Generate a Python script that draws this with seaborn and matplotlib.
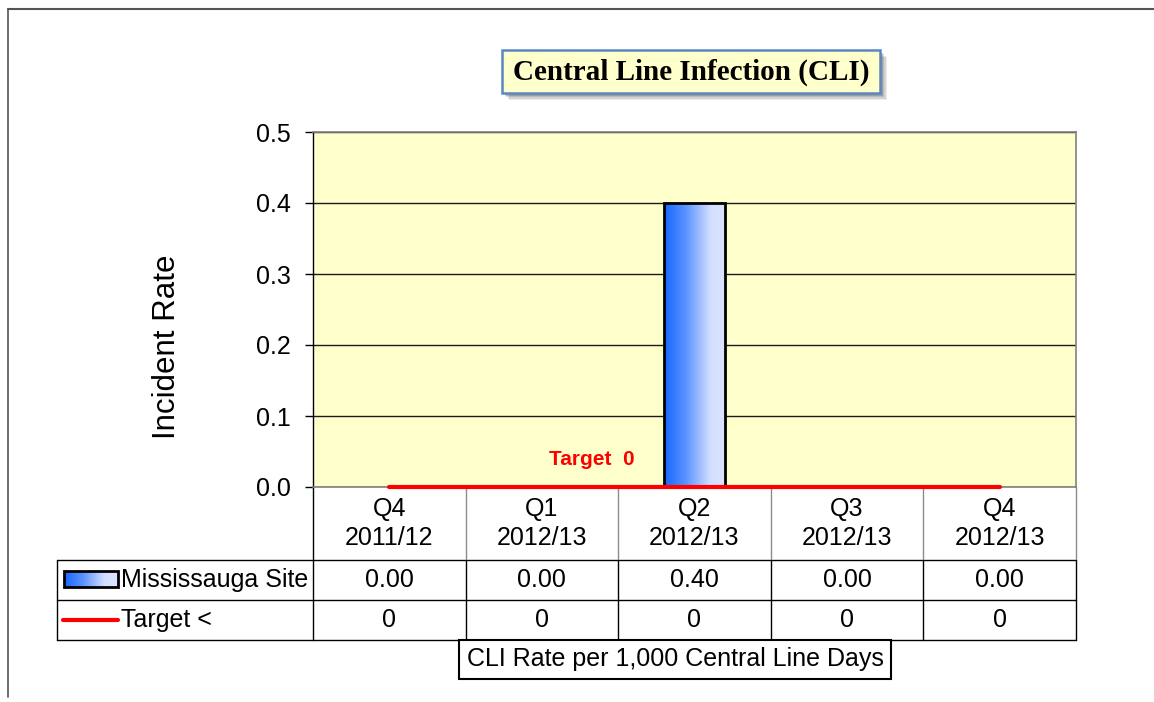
import numpy as np
import matplotlib
matplotlib.use("Agg")
import matplotlib.pyplot as plt
import matplotlib.transforms as mtransforms
from matplotlib.colors import LinearSegmentedColormap
from matplotlib.patches import Rectangle
import seaborn as sns

categories = ["Q4\n2011/12", "Q1\n2012/13", "Q2\n2012/13", "Q3\n2012/13", "Q4\n2012/13"]
site_rates = [0.00, 0.00, 0.40, 0.00, 0.00]
targets = [0, 0, 0, 0, 0]
yticks = [0.0, 0.1, 0.2, 0.3, 0.4, 0.5]
series_names = ["Mississauga Site", "Target <"]
title = "Central Line Infection (CLI)"
ylabel = "Incident Rate"
xlabel = "CLI Rate per 1,000 Central Line Days"
target_label = "Target  0"

W, H = 1154, 702
sns.set_theme(style="white")
plt.rcParams["font.family"] = ["Liberation Sans", "DejaVu Sans"]
plt.rcParams["text.color"] = "black"
plt.rcParams["axes.labelcolor"] = "black"
plt.rcParams["ytick.color"] = "black"
plt.rcParams["xtick.color"] = "black"

FS = 18

fig = plt.figure(figsize=(W / 100, H / 100), dpi=100)
fig.patch.set_facecolor("white")


def px(x0, y0, x1, y1):
    return [x0 / W, 1 - y1 / H, (x1 - x0) / W, (y1 - y0) / H]


# overlay in pixel coords for table, title, frame
ov = fig.add_axes([0, 0, 1, 1], zorder=0)
ov.axis("off")

ax = fig.add_axes(px(313, 132, 1076, 487), zorder=1)
ax.set_facecolor("#FFFFCC")

grad_cmap = LinearSegmentedColormap.from_list(
    "bar", [(0, "#1566FF"), (0.35, "#5A93FF"), (0.75, "#D3DEFF"), (1, "#DCE4FF")])
grad = np.linspace(0, 1, 256)[None, :]

sns.barplot(x=categories, y=site_rates, ax=ax, width=0.4, color="#3B7BFF",
            saturation=1, edgecolor="black", linewidth=2, zorder=3)
for bar in ax.patches:
    if bar.get_height() > 0:
        x, w, h = bar.get_x(), bar.get_width(), bar.get_height()
        im = ax.imshow(grad, cmap=grad_cmap, aspect="auto",
                       extent=[x, x + w, 0, h], zorder=3.5)
        im.set_clip_path(bar)
    else:
        bar.set_linewidth(0)
    bar.set_facecolor("none")
    bar.set_zorder(4)

sns.lineplot(x=categories, y=targets, ax=ax, color="red", linewidth=3,
             sort=False, zorder=5, clip_on=False)
ax.text(1.33, 0.025, target_label, color="red", fontsize=15, fontweight="bold",
        ha="center", va="bottom", zorder=6)

ax.set_xlim(-0.5, len(categories) - 0.5)
ax.set_ylim(0, 0.5)
ax.set_yticks(yticks)
ax.set_yticklabels([f"{t:.1f}" for t in yticks])
ax.grid(axis="y", color="#1a1a1a", linewidth=1)
ax.grid(axis="x", visible=False)
ax.set_axisbelow(True)
ax.set_xlabel("")
ax.set_ylabel("")
ax.tick_params(axis="x", bottom=False, labelbottom=False)
ax.tick_params(axis="y", left=True, length=6, width=1, color="black",
               labelsize=FS, labelcolor="black", pad=10)
for s in ["top", "right", "bottom"]:
    ax.spines[s].set_color("#808080")
    ax.spines[s].set_linewidth(1.2)
ax.spines["left"].set_color("black")
ax.spines["left"].set_linewidth(1)
if ax.get_legend():
    ax.get_legend().remove()

ov.set_xlim(0, W)
ov.set_ylim(H, 0)

# outer frame
ov.plot([8, 8], [9, 697], color="#555555", lw=1.2)
ov.plot([8, W], [9, 9], color="#555555", lw=1.5)

# y label
ov.text(167, 347, ylabel, rotation=90, ha="center", va="center", fontsize=22.5)

# title box with shadow
for i, a in enumerate([0.08, 0.1, 0.12, 0.15]):
    off = 7 - i * 1.5
    ov.add_patch(Rectangle((502 + off, 50 + off), 378, 43, facecolor="black",
                           edgecolor="none", alpha=a))
ov.add_patch(Rectangle((502, 50), 378, 43, facecolor="#FFFFCC",
                       edgecolor="#5B86C4", lw=1.8))
ov.text(691, 72, title, ha="center", va="center", fontsize=21,
        fontweight="bold", family=["Liberation Serif", "DejaVu Serif"])

# data table
tb = mtransforms.blended_transform_factory(ax.transData, ov.transData)
n = len(categories)
row_top, row1, row2, row_bot = 487, 560, 600, 640
for y in [row1, row2, row_bot]:
    ov.plot([57, 313], [y, y], color="black", lw=1)
    ov.plot([-0.5, n - 0.5], [y, y], color="black", lw=1, transform=tb)
ov.plot([57, 57], [row1, row_bot], color="black", lw=1)
ov.plot([-0.5, -0.5], [row_top, row_bot], color="black", lw=1, transform=tb)
for i in range(n):
    b = i + 0.5
    ov.plot([b, b], [row_top, row1], color="#8c8c8c", lw=1, transform=tb)
    ov.plot([b, b], [row1, row_bot], color="black", lw=1, transform=tb)

for i, (cat, v, t) in enumerate(zip(categories, site_rates, targets)):
    ov.text(i, (row_top + row1) / 2, cat, ha="center", va="center",
            fontsize=FS, linespacing=1.3, transform=tb)
    ov.text(i, (row1 + row2) / 2, f"{v:.2f}", ha="center", va="center",
            fontsize=FS, transform=tb)
    ov.text(i, (row2 + row_bot) / 2, f"{t:d}", ha="center", va="center",
            fontsize=FS, transform=tb)

# legend keys inside the table
ov.imshow(grad, cmap=grad_cmap, aspect="auto", extent=[64, 118, 587, 571], zorder=2)
ov.add_patch(Rectangle((64, 571), 54, 16, facecolor="none", edgecolor="black",
                       lw=2, zorder=3))
ov.plot([63, 118], [620, 620], color="red", lw=3)
ov.text(121, (row1 + row2) / 2, series_names[0], ha="left", va="center", fontsize=FS)
ov.text(121, (row2 + row_bot) / 2, series_names[1], ha="left", va="center", fontsize=FS)
ov.set_xlim(0, W)
ov.set_ylim(H, 0)

# x axis label box
ov.text(675, 659, xlabel, ha="center", va="center", fontsize=FS,
        bbox=dict(boxstyle="square,pad=0.3", facecolor="white",
                  edgecolor="black", lw=1.5))

fig.savefig("out.png", dpi=100)
